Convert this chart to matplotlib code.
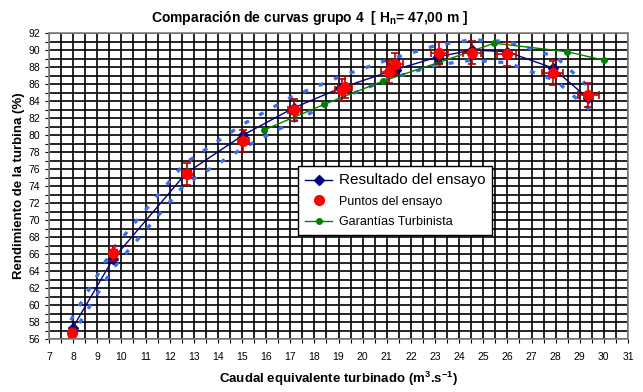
import numpy as np
import matplotlib
matplotlib.use('Agg')
import matplotlib.pyplot as plt
from matplotlib.ticker import MultipleLocator

plt.rcParams['font.family'] = ['Liberation Sans', 'DejaVu Sans']

# Resultado del ensayo (caudal, rendimiento)
q_res = [7.98, 9.65, 12.68, 15.05, 17.15, 19.06, 21.37, 23.13, 24.54, 25.97, 27.87, 29.35]
eta_res = [57.3, 65.4, 75.5, 80.0, 83.2, 85.5, 87.7, 89.2, 90.0, 89.8, 87.9, 84.3]

# Puntos del ensayo
q_pts = [7.97, 9.66, 12.71, 15.05, 17.17, 19.13, 19.27, 21.10, 21.34, 23.17, 24.54, 25.97, 27.87, 29.35]
eta_pts = [56.7, 66.1, 75.4, 79.3, 82.9, 85.3, 85.7, 87.45, 88.35, 89.7, 89.7, 89.5, 87.25, 84.7]
q_err = [0.12, 0.15, 0.19, 0.23, 0.26, 0.29, 0.29, 0.32, 0.32, 0.35, 0.37, 0.39, 0.42, 0.44]
eta_err = [0.6, 0.9, 1.3, 1.3, 1.3, 1.3, 1.3, 1.3, 1.3, 1.3, 1.4, 1.4, 1.4, 1.4]

# Garantias turbinista
q_gar = [15.92, 18.41, 20.85, 23.17, 25.46, 28.48, 30.0]
eta_gar = [80.6, 83.6, 86.35, 88.55, 90.8, 89.8, 88.8]

# bandas de incertidumbre
q_band = [7.9, 9.65, 12.6, 15.0, 17.0, 19.0, 21.0, 23.0, 24.5, 26.0, 28.0, 29.4]
eta_up = [58.2, 66.6, 76.6, 81.2, 84.4, 86.8, 88.8, 90.5, 91.2, 91.0, 89.2, 85.6]
eta_lo = [56.2, 64.3, 74.1, 78.4, 81.4, 84.2, 86.5, 88.2, 88.8, 88.5, 86.4, 83.0]

fig = plt.figure(figsize=(6.43, 3.92), dpi=100)
ax = fig.add_axes([0.0762, 0.1352, 0.9005, 0.7806])

ax.set_xlim(7, 31)
ax.set_ylim(56, 92)
ax.xaxis.set_major_locator(MultipleLocator(1))
ax.xaxis.set_minor_locator(MultipleLocator(0.5))
ax.yaxis.set_major_locator(MultipleLocator(2))
ax.yaxis.set_minor_locator(MultipleLocator(1))
ax.grid(True, which='both', color='black', linewidth=1.2)
ax.set_axisbelow(True)
for s in ax.spines.values():
    s.set_color('#808080')
    s.set_linewidth(1.2)
ax.tick_params(which='both', direction='out', length=3, width=0.8, labelsize=7.5, colors='black')
ax.tick_params(axis='x', pad=6)

# bands
ax.plot(q_band, eta_up, color='#3A6BF0', lw=2.4, ls=(0, (1.5, 3.5)))
ax.plot(q_band, eta_lo, color='#3A6BF0', lw=2.4, ls=(0, (1.5, 3.5)))

ax.plot(q_gar, eta_gar, color='#008000', lw=1, marker='o', ms=4,
        label='Garantías Turbinista')
ax.plot(q_res, eta_res, color='#000080', lw=1, marker='D', ms=5,
        label='Resultado del ensayo')
ax.errorbar(q_pts, eta_pts, xerr=q_err, yerr=eta_err, fmt='none',
            ecolor='#B00000', elinewidth=1.2, capsize=3, capthick=1.2)
ax.plot(q_pts, eta_pts, ls='none', marker='o', ms=7, color='#FF0000',
        label='Puntos del ensayo')

h, l = ax.get_legend_handles_labels()
order = [1, 2, 0]
leg = ax.legend([h[i] for i in order], [l[i] for i in order],
                loc='upper left', bbox_to_anchor=(0.43, 0.565), borderaxespad=0,
                frameon=True, fancybox=False, framealpha=1,
                edgecolor='black', fontsize=9, handlelength=2.2,
                handletextpad=0.5, borderpad=0.55, labelspacing=0.7)
leg.get_frame().set_linewidth(1)
leg.get_texts()[0].set_fontsize(11)

fig.text(0.482, 0.955, 'Comparación de curvas grupo 4  [ H$_\\mathregular{n}$= 47,00 m ]',
         ha='center', va='center', fontsize=10, fontweight='bold')
ax.set_xlabel('Caudal equivalente turbinado (m$^\\mathregular{3}$.s$^\\mathregular{-1}$)',
              fontsize=9.5, fontweight='bold', labelpad=6)
ax.set_ylabel('Rendimiento de la turbina (%)', fontsize=9.5, fontweight='bold', labelpad=2)

fig.savefig('out.png', dpi=100)
